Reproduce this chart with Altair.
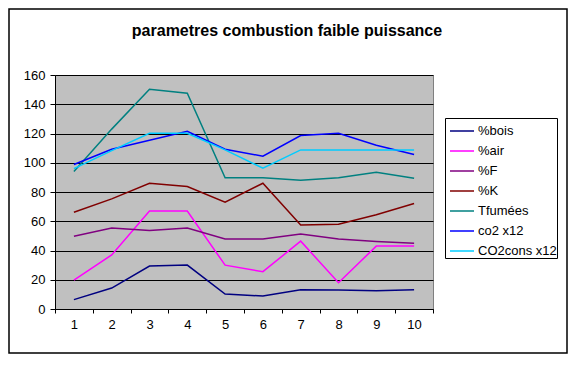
import altair as alt
import pandas as pd

categories = [1, 2, 3, 4, 5, 6, 7, 8, 9, 10]
series_names = ["%bois", "%air", "%F", "%K", "Tfumées", "co2 x12", "CO2cons x12"]
series_colors = ["#000080", "#FF00FF", "#800080", "#800000", "#008080", "#0000FF", "#00CCFF"]

bois = [6.4, 14.3, 29.4, 30, 10.2, 8.9, 13.2, 13, 12.5, 13.2]
air = [19.8, 37, 67, 67, 30, 25.5, 46.4, 18, 43, 43]
pF = [49.8, 55.3, 53.7, 55.3, 47.8, 47.8, 51.2, 47.8, 46.2, 45]
pK = [66.2, 75.3, 86, 83.7, 73, 86, 57.4, 58, 64.4, 72.1]
tfumees = [94, 123, 150.2, 147.5, 89.7, 89.7, 88, 89.7, 93.5, 89.4]
co2 = [98.8, 109.2, 115.4, 121.5, 109.2, 104.5, 118.6, 120.2, 112, 105.6]
co2cons = [96, 108.3, 120.2, 120.2, 108.8, 96.3, 108.8, 108.8, 108.8, 108.8]

y_ticks = [0, 20, 40, 60, 80, 100, 120, 140, 160]
title_text = "parametres combustion faible puissance"

all_series = [bois, air, pF, pK, tfumees, co2, co2cons]
rows = []
for name, vals in zip(series_names, all_series):
    for c, v in zip(categories, vals):
        rows.append({"cat": c, "value": v, "serie": name})
df = pd.DataFrame(rows)

FONT = "Liberation Sans"

lines = alt.Chart(df).mark_line(strokeWidth=1.5).encode(
    x=alt.X("cat:O", scale=alt.Scale(domain=categories, paddingInner=0, paddingOuter=0),
            axis=alt.Axis(title=None, labelAngle=0, tickBand="extent", tickSize=4,
                          labelPadding=5, domainColor="black", tickColor="black",
                          labelFont=FONT, labelFontSize=13, labelColor="black", grid=False)),
    y=alt.Y("value:Q", scale=alt.Scale(domain=[0, 160], nice=False),
            axis=alt.Axis(title=None, values=y_ticks, tickSize=5, labelPadding=5,
                          domainColor="black", tickColor="black", gridColor="black",
                          gridOpacity=1, gridWidth=1,
                          labelFont=FONT, labelFontSize=13, labelColor="black")),
    color=alt.Color("serie:N", scale=alt.Scale(domain=series_names, range=series_colors),
                    sort=series_names,
                    legend=alt.Legend(title=None, orient="none", legendX=390, legendY=43,
                                      symbolType="stroke", symbolSize=576, symbolStrokeWidth=1.5,
                                      symbolOffset=4, padding=0, rowPadding=-3, labelOffset=3,
                                      labelFont=FONT, labelFontSize=13, labelColor="black",
                                      strokeColor="black", fillColor="white")),
    detail="serie:N",
)

title_df = pd.DataFrame({"t": [title_text]})
title = alt.Chart(title_df).mark_text(font=FONT, fontSize=16, fontWeight="bold",
                                      baseline="alphabetic", align="center", color="black").encode(
    text="t:N", x=alt.value(232), y=alt.value(-39.5))

border = alt.Chart(title_df).mark_rect(fill="transparent", stroke="black", strokeWidth=1.5).encode(
    x=alt.value(-46), x2=alt.value(512), y=alt.value(-66), y2=alt.value(278))

chart = alt.layer(border, lines, title).properties(
    width=378, height=234,
    autosize=alt.AutoSizeParams(type="none"),
    padding={"left": 47, "top": 67, "right": 136, "bottom": 46},
    background="white",
).configure_view(fill="#C0C0C0", stroke="#808080", strokeWidth=1)

chart.save("out.html", embed_options={"renderer": "svg", "actions": False})
